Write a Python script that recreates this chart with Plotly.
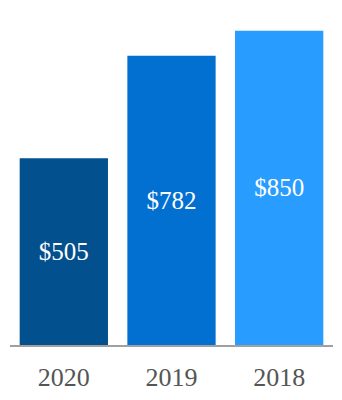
import plotly.graph_objects as go

years = ["2020", "2019", "2018"]
values = [505, 782, 850]
labels = ["$505", "$782", "$850"]
colors = ["#03508F", "#0170D0", "#299CFF"]

fig = go.Figure(go.Bar(
    x=years, y=values, text=labels,
    marker=dict(color=colors, line=dict(width=0)),
    textposition="inside", insidetextanchor="middle", textangle=0,
    constraintext="none",
    textfont=dict(family="Liberation Serif, Times New Roman, serif", size=25, color="white"),
    hoverinfo="skip",
))
fig.update_layout(
    width=342, height=400,
    margin=dict(l=10, r=9, t=10, b=55),
    paper_bgcolor="white", plot_bgcolor="white",
    bargap=0.18, showlegend=False,
    xaxis=dict(showline=True, linecolor="#A0A0A0", linewidth=2, showgrid=False,
               automargin=False,
               ticks="outside", ticklen=8, tickcolor="rgba(0,0,0,0)",
               tickfont=dict(family="Liberation Serif, Times New Roman, serif", size=26, color="#555555")),
    yaxis=dict(range=[0, 906], visible=False, showgrid=False, zeroline=False, automargin=False),
)
fig.write_html("out.html")
